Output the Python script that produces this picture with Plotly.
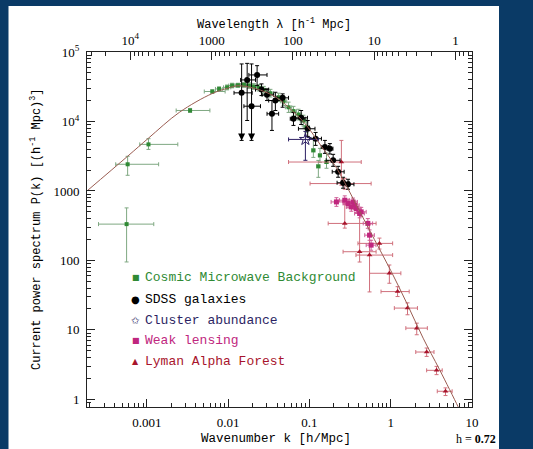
import math
import plotly.graph_objects as go

W, H = 533, 449
ML, MR, MT, MB = 87, 61, 52, 42
PW, PH = W - ML - MR, H - MT - MB

# ---- linear-theory power spectrum (sampled) ----
curve_k = [1.84e-4, 5.82e-4, 1.05e-3, 2.51e-3, 6.31e-3, 1.0e-2, 1.36e-2, 2.51e-2, 3.98e-2,
           5.55e-2, 8.87e-2, 0.141, 0.206, 0.272, 0.398, 0.631, 1.0, 1.585, 2.51, 3.98, 6.76, 7.5]
curve_P = [1000, 3160, 5750, 13500, 25100, 30200, 32700, 28200, 21900,
           16000, 9270, 4370, 2340, 1320, 562, 200, 72, 24, 7.6, 2.7, 0.78, 0.6]

# ---- Cosmic Microwave Background ----
cmb_k = [5.65e-4, 5.82e-4, 1.05e-3, 3.41e-3, 6.4e-3, 7.76e-3, 9.73e-3, 0.0112, 0.01324, 0.01567,
         0.01803, 0.02075, 0.0239, 0.0275, 0.0332, 0.0419, 0.0482, 0.0555, 0.0638, 0.0735,
         0.0846, 0.0919, 0.112, 0.135, 0.1625, 0.129]
cmb_P = [333, 2420, 4680, 14400, 27000, 29400, 31000, 32900, 33200, 33600,
         32900, 31800, 30500, 28500, 25500, 22300, 19500, 16000, 14100, 12600,
         10300, 8280, 3840, 3250, 2610, 2260]
cmb_klo = [2.55e-4, 4.15e-4, 8.2e-4, 2.3e-3, 5.1e-3, 7.0e-3, 8.8e-3, 0.0102, 0.0121, 0.0143,
           0.0165, 0.019, 0.0219, 0.0251, 0.0303, 0.0383, 0.044, 0.0507, 0.0583, 0.0672,
           0.0773, 0.084, 0.107, 0.129, 0.155, 0.123]
cmb_khi = [1.22e-3, 1.4e-3, 2.41e-3, 5.98e-3, 9.2e-3, 8.6e-3, 0.0108, 0.0123, 0.0145, 0.0172,
           0.0197, 0.0227, 0.0261, 0.0301, 0.0363, 0.0458, 0.0527, 0.0607, 0.0698, 0.0804,
           0.0925, 0.1005, 0.117, 0.141, 0.17, 0.135]
cmb_Plo = [95, 1680, 3960, 13500, 25500, 27500, 28500, 30500, 31000, 31000,
           30000, 29000, 27500, 25500, 22500, 19500, 17000, 13500, 12000, 10500,
           8600, 6900, 3040, 2580, 2120, 1570]
cmb_Phi = [570, 3150, 5650, 15400, 28500, 31500, 33500, 35500, 35500, 36500,
           36000, 35000, 34000, 32000, 29000, 25500, 22500, 19000, 16500, 15000,
           12300, 9900, 5700, 4100, 3510, 2750]

# ---- SDSS galaxies ----
sdss_k = [0.01469, 0.01718, 0.01945, 0.02276, 0.02576, 0.03015, 0.03467, 0.03819, 0.0469,
          0.06379, 0.07925, 0.09537, 0.1193, 0.1554, 0.1788, 0.1962, 0.2258, 0.2598, 0.299]
sdss_P = [25820, 39630, 16590, 46770, 28770, 24160, 12890, 20000, 21880,
          10950, 11300, 7855, 5650, 4276, 4058, 2761, 1888, 1312, 1248]
sdss_klo = [0.01184, 0.01428, 0.01567, 0.01803, 0.02177, 0.0262, 0.03015, 0.03162, 0.0399,
            0.0582, 0.0675, 0.0734, 0.1, 0.14, 0.165, 0.161, 0.191, 0.2193, 0.2598]
sdss_khi = [0.01978, 0.02177, 0.02505, 0.03015, 0.03162, 0.0364, 0.04188, 0.0469, 0.05546,
            0.0887, 0.0947, 0.1173, 0.1408, 0.172, 0.195, 0.2387, 0.2677, 0.3076, 0.3536]
sdss_Plo = [5337, 10330, 5337, 32840, 23600, 20000, 7430, 14380, 16030,
            8770, 9060, 6100, 4530, 3475, 3400, 2262, 1574, 1094, 1058]
sdss_Phi = [67300, 68600, 67300, 63560, 34760, 29450, 20000, 26340, 24960,
            13460, 14380, 10330, 6950, 5337, 4800, 3364, 2262, 1574, 1473]
# bins whose lower error bar is an upper limit
sdss_limit_k = [0.01469, 0.01945]
sdss_limit_P = [5337, 5337]

# ---- Cluster abundance ----
clu_k, clu_P = [0.0894], [5517]
clu_klo, clu_khi = [0.0555], [0.1288]
clu_Plo, clu_Phi = [2761], [7190]

# ---- Weak lensing ----
wl_k = [0.2153, 0.2725, 0.299, 0.344, 0.361, 0.328, 0.3775, 0.434, 0.415, 0.524, 0.55, 0.575]
wl_P = [695, 736, 659, 695, 624, 589, 559, 500, 474, 341, 231, 166]
wl_klo = [0.185, 0.235, 0.26, 0.30, 0.315, 0.285, 0.33, 0.38, 0.36, 0.46, 0.48, 0.50]
wl_khi = [0.26, 0.31, 0.345, 0.39, 0.41, 0.375, 0.43, 0.50, 0.475, 0.60, 0.63, 0.66]
wl_Plo = [600, 640, 570, 610, 545, 510, 490, 430, 410, 290, 195, 140]
wl_Phi = [800, 850, 760, 790, 715, 680, 640, 580, 545, 400, 275, 195]

# ---- Lyman Alpha Forest ----
lya_k = [0.2477, 0.2725, 0.2725, 0.4152, 0.5498, 0.728, 0.9642, 1.217, 1.612, 2.093, 2.771, 3.669, 4.726]
lya_P = [2607, 1277, 340.7, 133.4, 119.4, 175.9, 65.3, 35.6, 20.6, 10.6, 4.80, 2.616, 1.307]
lya_klo = [0.05546, 0.102, 0.1704, 0.2598, 0.3743, 0.396, 0.5498, 0.7614, 1.11, 1.537, 2.035, 2.771, 3.743]
lya_khi = [0.4344, 0.5751, 0.6617, 0.6617, 1.058, 1.058, 1.335, 1.69, 2.135, 2.827, 3.412, 4.306, 5.703]
lya_Plo = [1208, 1058, 291.7, 94.8, 35.2, 145.8, 46.9, 30.2, 16.5, 8.51, 4.15, 2.269, 1.134]
lya_Phi = [5337, 1521, 736.4, 494.6, 332.7, 209.5, 85.9, 41.9, 24.5, 12.5, 5.48, 2.985, 1.462]

# ---- axis ticks ----
k_ticks = [0.001, 0.01, 0.1, 1, 10]
k_ticktext = ["0.001", "0.01", "0.1", "1", "10"]
P_ticks = [1, 10, 100, 1000, 1e4, 1e5]
P_ticktext = ["1", "10", "100", "1000", "10<sup>4</sup>", "10<sup>5</sup>"]
lam_ticks = [1e4, 1000, 100, 10, 1]
lam_ticktext = ["10<sup>4</sup>", "1000", "100", "10", "1"]

X_RANGE = [-3.735, 1.0005]
Y_RANGE = [-0.11, 5.0]

C_CMB, C_CMB_BAR = "#2f8a34", "#7fa882"
C_SDSS = "#000000"
C_CLU = "#2c1f63"
C_WL, C_WL_BAR = "#c0267e", "#cf5f97"
C_LYA, C_LYA_BAR = "#a8142c", "#d0707c"
FONT_TXT = "Liberation Mono"
FONT_NUM = "Liberation Serif"


def err(vals, lo, hi):
    return [h - v for v, h in zip(vals, hi)], [v - l for v, l in zip(vals, lo)]


def pts(name, k, P, klo, khi, Plo, Phi, color, barcolor, symbol, size, xaxis="x"):
    ex, exm = err(k, klo, khi)
    ey, eym = err(P, Plo, Phi)
    return go.Scatter(
        x=k, y=P, mode="markers", name=name, showlegend=False, xaxis=xaxis,
        marker=dict(symbol=symbol, size=size, color=color,
                    line=dict(width=1 if "open" in symbol else 0, color=color)),
        error_x=dict(type="data", array=ex, arrayminus=exm, color=barcolor, thickness=1, width=2),
        error_y=dict(type="data", array=ey, arrayminus=eym, color=barcolor, thickness=1, width=2),
        cliponaxis=False,
    )


fig = go.Figure()

fig.add_trace(go.Scatter(x=curve_k, y=curve_P, mode="lines", line=dict(color="#9b5d52", width=1),
                         line_shape="spline", showlegend=False, xaxis="x2"))
fig.add_trace(pts("CMB", cmb_k, cmb_P, cmb_klo, cmb_khi, cmb_Plo, cmb_Phi, C_CMB, C_CMB_BAR, "square", 4))
fig.add_trace(pts("Lya", lya_k, lya_P, lya_klo, lya_khi, lya_Plo, lya_Phi, C_LYA, C_LYA_BAR, "triangle-up", 5))
fig.add_trace(pts("WL", wl_k, wl_P, wl_klo, wl_khi, wl_Plo, wl_Phi, C_WL, C_WL_BAR, "square", 5))
fig.add_trace(pts("SDSS", sdss_k, sdss_P, sdss_klo, sdss_khi, sdss_Plo, sdss_Phi, C_SDSS, C_SDSS, "circle", 6))
fig.add_trace(pts("Clusters", clu_k, clu_P, clu_klo, clu_khi, clu_Plo, clu_Phi, C_CLU, C_CLU, "star-open", 9))

# upper-limit arrowheads on the two lowest-k SDSS bins
fig.add_trace(go.Scatter(x=sdss_limit_k, y=sdss_limit_P, mode="markers", showlegend=False,
                         marker=dict(symbol="arrow-down", size=7, color="#000000"), cliponaxis=False))


def px(xp):
    return (xp - ML) / PW


def py(yp):
    return (H - MB - yp) / PH


# white page behind the plot
fig.add_shape(type="rect", xref="paper", yref="paper", x0=px(8.5), x1=px(499), y0=py(449), y1=py(6),
              fillcolor="white", line=dict(width=0), layer="below")

# legend
legend_rows = [
    ("■", "Cosmic Microwave Background", C_CMB, 277),
    ("●", "SDSS galaxies", C_SDSS, 299),
    ("✩", "Cluster abundance", C_CLU, 320),
    ("■", "Weak lensing", C_WL, 340.5),
    ("▲", "Lyman Alpha Forest", C_LYA, 361),
]
for sym, label, col, yp in legend_rows:
    fig.add_annotation(x=px(135.5), y=py(yp), xref="paper", yref="paper", text=sym, showarrow=False,
                       font=dict(family="DejaVu Sans", size=8 if sym in "■▲" else 10, color=col),
                       xanchor="center", yanchor="middle")
    fig.add_annotation(x=px(143), y=py(yp), xref="paper", yref="paper", text=label, showarrow=False,
                       font=dict(family=FONT_TXT, size=13, color=col), xanchor="left", yanchor="middle")

# axis titles
fig.add_annotation(x=px(276), y=py(439), xref="paper", yref="paper", text="Wavenumber k [h/Mpc]",
                   showarrow=False, font=dict(family=FONT_TXT, size=12.5, color="black"),
                   xanchor="center", yanchor="middle")
fig.add_annotation(x=px(274), y=py(24), xref="paper", yref="paper",
                   text="Wavelength λ [h<sup>-1</sup> Mpc]",
                   showarrow=False, font=dict(family=FONT_TXT, size=12, color="black"),
                   xanchor="center", yanchor="middle")
fig.add_annotation(x=px(36), y=py(229), xref="paper", yref="paper", textangle=-90,
                   text="Current power spectrum P(k) [(h<sup>-1</sup> Mpc)<sup>3</sup>]",
                   showarrow=False, font=dict(family=FONT_TXT, size=12, color="black"),
                   xanchor="center", yanchor="middle")
fig.add_annotation(x=px(476), y=py(439), xref="paper", yref="paper", text="h = <b>0.72</b>",
                   showarrow=False, font=dict(family=FONT_NUM, size=12, color="black"),
                   xanchor="center", yanchor="middle")

axis_common = dict(type="log", showline=True, linecolor="#222", linewidth=1, ticks="inside",
                   ticklen=8, tickcolor="#222", showgrid=False, zeroline=False, automargin=False,
                   tickfont=dict(family=FONT_NUM, size=13, color="black"))


def minor_vals(lo_exp, hi_exp):
    return [m * 10 ** e for e in range(lo_exp, hi_exp) for m in range(2, 10)]


fig.update_layout(
    width=W, height=H, margin=dict(l=ML, r=MR, t=MT, b=MB),
    paper_bgcolor="#0a3a66", plot_bgcolor="white",
    xaxis=dict(**axis_common, range=X_RANGE, tickmode="array", tickvals=k_ticks, ticktext=k_ticktext,
               ticklabelstandoff=3,
               minor=dict(ticks="inside", ticklen=4, tickcolor="#222", tickmode="array",
                          tickvals=minor_vals(-4, 1))),
    xaxis2=dict(**axis_common, range=X_RANGE, overlaying="x", side="top", anchor="y", tickmode="array",
                tickvals=[2 * math.pi / l for l in lam_ticks], ticktext=lam_ticktext,
                ticklabelstandoff=1,
                minor=dict(ticks="inside", ticklen=4, tickcolor="#222", tickmode="array",
                           tickvals=[2 * math.pi / l for l in minor_vals(-1, 5)])),
    yaxis=dict(**axis_common, range=Y_RANGE, mirror="ticks", tickmode="array", tickvals=P_ticks,
               ticktext=P_ticktext, ticklabelstandoff=4,
               minor=dict(ticks="inside", ticklen=4, tickcolor="#222", tickmode="array",
                          tickvals=minor_vals(-1, 5))),
)

fig.write_html("out.html")
